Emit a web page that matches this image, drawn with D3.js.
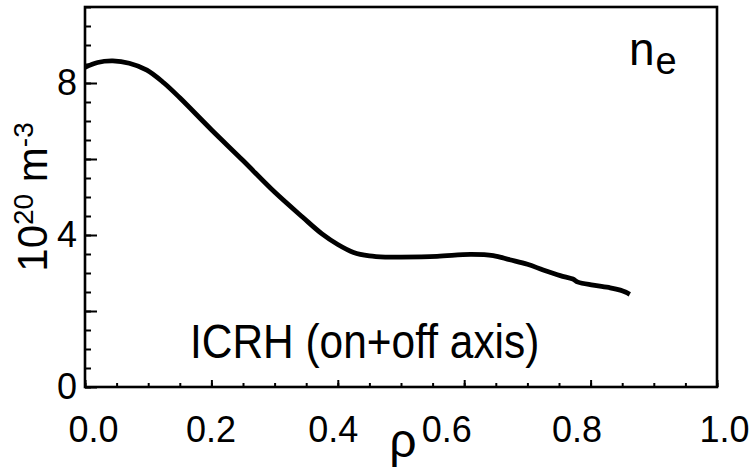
<!DOCTYPE html>
<html>
<head>
<meta charset="utf-8">
<script src="https://cdn.jsdelivr.net/npm/d3@7"></script>
<style>
  html, body { margin: 0; padding: 0; background: #fff; }
  svg { display: block; }
  text { font-family: "Liberation Sans", Arial, Helvetica, sans-serif; fill: #000; }
</style>
</head>
<body>
<svg id="chart" width="753" height="474"></svg>
<script>
// Normalised radius and electron density profile (10^20 m^-3)
const rho = [0, 0.02, 0.044, 0.07, 0.098, 0.125, 0.15, 0.2, 0.25, 0.3, 0.345, 0.375,
             0.4, 0.425, 0.45, 0.475, 0.5, 0.557, 0.61, 0.646, 0.672, 0.7, 0.725,
             0.752, 0.772, 0.78, 0.804, 0.831, 0.847, 0.855, 0.862];
const ne = [8.41, 8.54, 8.58, 8.52, 8.34, 8.00, 7.61, 6.77, 5.96, 5.13, 4.46, 4.03,
            3.75, 3.54, 3.45, 3.42, 3.42, 3.44, 3.49, 3.46, 3.35, 3.23, 3.08,
            2.93, 2.84, 2.76, 2.68, 2.61, 2.55, 2.50, 2.44];

const xDomain = [0, 1];
const yDomain = [0, 10];
const xMajorTicks = [0, 0.2, 0.4, 0.6, 0.8, 1.0];
const xTickLabels = ["0.0", "0.2", "0.4", "0.6", "0.8", "1.0"];
const yMajorTicks = [0, 2, 4, 6, 8];
const yLabelTicks = [0, 4, 8];
const yTickLabels = ["0", "4", "8"];
const panelLabel = "ICRH (on+off axis)";

const svg = d3.select("#chart");
const plotL = 85, plotR = 717, plotT = 7, plotB = 387;

const x = d3.scaleLinear().domain(xDomain).range([plotL, plotR]);
const y = d3.scaleLinear().domain(yDomain).range([plotB, plotT]);

// Minor ticks
const xMinor = d3.range(0, 1.0001, 0.05);
const yMinor = d3.range(0, 10.0001, 0.5);

function styleAxis(g) {
  g.select(".domain").remove();
  g.selectAll(".tick line").attr("stroke", "#000").attr("stroke-width", 2);
}

// y ticks pointing into the plot
svg.append("g").attr("transform", `translate(${plotL},0)`)
  .call(d3.axisRight(y).tickValues(yMinor).tickSize(6).tickFormat(""))
  .call(styleAxis);
svg.append("g").attr("transform", `translate(${plotL},0)`)
  .call(d3.axisRight(y).tickValues(yMajorTicks).tickSize(12).tickFormat(""))
  .call(styleAxis);

// x ticks pointing into the plot
svg.append("g").attr("transform", `translate(0,${plotB})`)
  .call(d3.axisTop(x).tickValues(xMinor).tickSize(4).tickFormat(""))
  .call(styleAxis);
svg.append("g").attr("transform", `translate(0,${plotB})`)
  .call(d3.axisTop(x).tickValues(xMajorTicks).tickSize(7).tickFormat(""))
  .call(styleAxis);

// Tick labels
const yLab = svg.append("g").attr("transform", `translate(${plotL},0)`)
  .call(d3.axisLeft(y).tickValues(yLabelTicks).tickSize(0).tickPadding(8)
        .tickFormat((d, i) => yTickLabels[i]));
yLab.select(".domain").remove();
yLab.selectAll("text").attr("font-size", 36)
  .attr("font-family", '"Liberation Sans", Arial, sans-serif').attr("fill", "#000");

const xNudge = [8, -1, -5, -18, -14, 7];
const xLab = svg.append("g").attr("transform", `translate(0,${plotB})`)
  .call(d3.axisBottom(x).tickValues(xMajorTicks).tickSize(0).tickPadding(29)
        .tickFormat((d, i) => xTickLabels[i]));
xLab.select(".domain").remove();
xLab.selectAll("text").attr("font-size", 36)
  .attr("font-family", '"Liberation Sans", Arial, sans-serif').attr("fill", "#000")
  .attr("dx", (d, i) => xNudge[i]);

// Frame
svg.append("rect")
  .attr("x", plotL).attr("y", plotT)
  .attr("width", plotR - plotL).attr("height", plotB - plotT)
  .attr("fill", "none").attr("stroke", "#000").attr("stroke-width", 2.6);

// Density profile
const line = d3.line()
  .x((d, i) => x(rho[i]))
  .y((d, i) => y(ne[i]))
  .curve(d3.curveCatmullRom.alpha(0.5));
svg.append("path")
  .attr("d", line(rho))
  .attr("fill", "none").attr("stroke", "#000")
  .attr("stroke-width", 4.8).attr("stroke-linejoin", "round").attr("stroke-linecap", "butt");

// Axis titles
svg.append("text")
  .attr("x", 403).attr("y", 457)
  .attr("text-anchor", "middle")
  .attr("font-size", 48)
  .text("ρ");

const yt = svg.append("text")
  .attr("transform", `translate(47,${(plotT + plotB) / 2}) rotate(-90)`)
  .attr("text-anchor", "middle")
  .attr("font-size", 42);
yt.append("tspan").text("10");
yt.append("tspan").attr("font-size", 28).attr("dy", -14).text("20");
yt.append("tspan").attr("dy", 14).text(" m");
yt.append("tspan").attr("font-size", 28).attr("dy", -14).text("-3");

// Panel annotations
svg.append("text")
  .attr("transform", "translate(190,358) scale(0.884,1)")
  .attr("font-size", 48)
  .text(panelLabel);

const nl = svg.append("text").attr("x", 629).attr("y", 65).attr("font-size", 46);
nl.append("tspan").text("n");
nl.append("tspan").attr("font-size", 38).attr("dy", 9).attr("dx", 1).text("e");
</script>
</body>
</html>
